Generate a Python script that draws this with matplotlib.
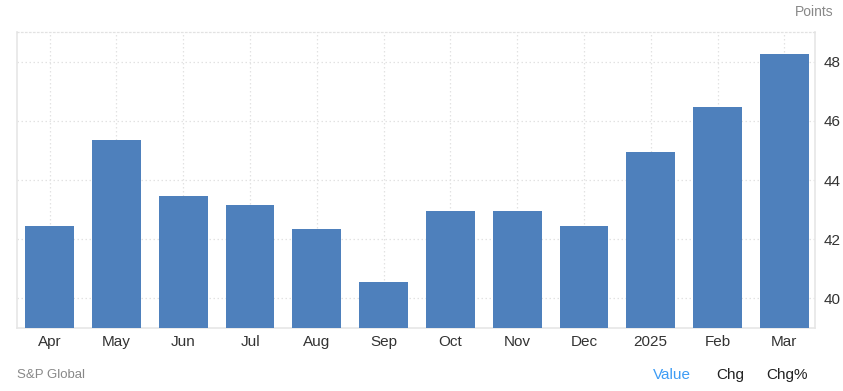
import matplotlib.pyplot as plt
import numpy as np

plt.rcParams['font.family'] = ['Liberation Sans', 'DejaVu Sans']

months = ['Apr', 'May', 'Jun', 'Jul', 'Aug', 'Sep', 'Oct', 'Nov', 'Dec', '2025', 'Feb', 'Mar']
values = [42.45, 45.35, 43.45, 43.15, 42.35, 40.55, 42.95, 42.95, 42.45, 44.95, 46.45, 48.25]
yticks = [40, 42, 44, 46, 48]

fig = plt.figure(figsize=(8.43, 3.91), dpi=100)
ax = fig.add_axes([17/843, 63/391, 798/843, 296/391])

x = np.arange(len(months))
ax.bar(x, values, width=0.73, color='#4e80bc', zorder=3)

ax.set_xlim(-0.49, 11.46)
ax.set_ylim(39, 49)
ax.set_xticks(x)
ax.set_xticklabels(months)
ax.set_yticks(yticks)
ax.yaxis.tick_right()
ax.tick_params(axis='both', length=0, labelsize=11, colors='#333333')
ax.tick_params(axis='x', pad=5)
ax.tick_params(axis='y', pad=6)

ax.grid(True, color='#e2e2e2', linestyle=(0, (1.2, 2)), linewidth=0.9, zorder=0)
for s in ['left', 'right', 'bottom']:
    ax.spines[s].set_color('#e6e6e6')
    ax.spines[s].set_linewidth(1.2)
ax.spines['top'].set_color('#e2e2e2')
ax.spines['top'].set_linestyle((0, (1.2, 2)))
ax.spines['top'].set_linewidth(0.9)

fig.text(833/843, 1 - 12/391, 'Points', ha='right', va='center', fontsize=10, color='#888888')
fig.text(17/843, 1 - 375/391, 'S&P Global', ha='left', va='center', fontsize=9.5, color='#888888')
fig.text(672/843, 1 - 375/391, 'Value', ha='center', va='center', fontsize=11, color='#3d9cf5')
fig.text(730/843, 1 - 375/391, 'Chg', ha='center', va='center', fontsize=11, color='#222222')
fig.text(787/843, 1 - 375/391, 'Chg%', ha='center', va='center', fontsize=11, color='#222222')

plt.savefig('out.png', dpi=100)
